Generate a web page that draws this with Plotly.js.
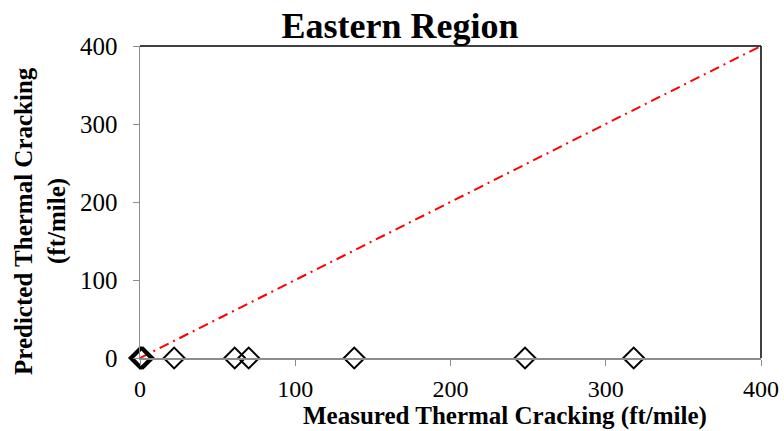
<!DOCTYPE html>
<html>
<head>
<meta charset="utf-8">
<script src="https://cdn.plot.ly/plotly-3.0.1.min.js"></script>
<style>
  html, body { margin: 0; padding: 0; background: #fff; }
  #chart { width: 784px; height: 431px; }
</style>
</head>
<body>
<div id="chart"></div>
<script>
// Measured vs predicted thermal cracking (ft/mile), Eastern Region sections
const measured  = [0, 0, 1, 2, 22, 61, 70, 138, 248, 318];
const predicted = [0, 0, 0, 0, 0, 0, 0, 0, 0, 0];

// Line of equality
const equalityX = [0, 400];
const equalityY = [0, 400];

const tickVals = [0, 100, 200, 300, 400];

const serif = "Liberation Serif, Times New Roman, serif";

const traces = [
  {
    x: equalityX, y: equalityY,
    mode: 'lines',
    line: { color: '#ff0000', width: 2, dash: '10px,5px,2px,5px' },
    hoverinfo: 'skip',
    cliponaxis: false
  },
  {
    x: measured, y: predicted,
    mode: 'markers',
    marker: { symbol: 'diamond-open', size: 16, color: '#000', line: { color: '#000', width: 2 } },
    cliponaxis: false
  }
];

const layout = {
  width: 784, height: 431,
  margin: { l: 140, r: 23, t: 46, b: 73 },
  paper_bgcolor: '#fff', plot_bgcolor: '#fff',
  showlegend: false,
  font: { family: serif, color: '#000', size: 24 },
  title: {
    text: '<b>Eastern Region</b>',
    font: { family: serif, size: 36, color: '#000' },
    x: 400 / 784, xref: 'container', xanchor: 'center',
    y: 1 - 25 / 431, yref: 'container', yanchor: 'middle'
  },
  xaxis: {
    range: [0, 400], tickvals: tickVals,
    showgrid: false, zeroline: false,
    showline: true, linecolor: '#8c8c8c', linewidth: 1.5,
    ticks: 'outside', ticklen: 6, tickcolor: '#8c8c8c', tickwidth: 1,
    ticklabelstandoff: 3,
    tickfont: { family: serif, size: 24, color: '#000' }
  },
  yaxis: {
    range: [0, 400], tickvals: tickVals,
    showgrid: false, zeroline: false,
    showline: true, linecolor: '#8c8c8c', linewidth: 1.5,
    ticks: 'outside', ticklen: 6, tickcolor: '#8c8c8c', tickwidth: 1,
    ticklabelstandoff: 10,
    tickfont: { family: serif, size: 25, color: '#000' }
  },
  shapes: [
    { type: 'line', xref: 'paper', yref: 'paper', x0: 0, x1: 1, y0: 1, y1: 1, line: { color: '#000', width: 1.5 } },
    { type: 'line', xref: 'paper', yref: 'paper', x0: 1, x1: 1, y0: 0, y1: 1, line: { color: '#000', width: 1.5 } }
  ],
  annotations: [
    {
      text: '<b>Measured Thermal Cracking (ft/mile)</b>',
      xref: 'paper', yref: 'paper',
      x: (505 - 140) / 621, y: -(416 - 358) / 312,
      xanchor: 'center', yanchor: 'middle', showarrow: false,
      font: { family: serif, size: 25, color: '#000' }
    },
    {
      text: '<b>Predicted Thermal Cracking</b>',
      xref: 'paper', yref: 'paper',
      x: -(140 - 23) / 621, y: (358 - 221) / 312,
      xanchor: 'center', yanchor: 'middle', showarrow: false,
      textangle: -90,
      font: { family: serif, size: 25, color: '#000' }
    },
    {
      text: '<b>(ft/mile)</b>',
      xref: 'paper', yref: 'paper',
      x: -(140 - 57) / 621, y: (358 - 221) / 312,
      xanchor: 'center', yanchor: 'middle', showarrow: false,
      textangle: -90,
      font: { family: serif, size: 25, color: '#000' }
    }
  ]
};

Plotly.newPlot('chart', traces, layout, { displayModeBar: false, staticPlot: true });
</script>
</body>
</html>
